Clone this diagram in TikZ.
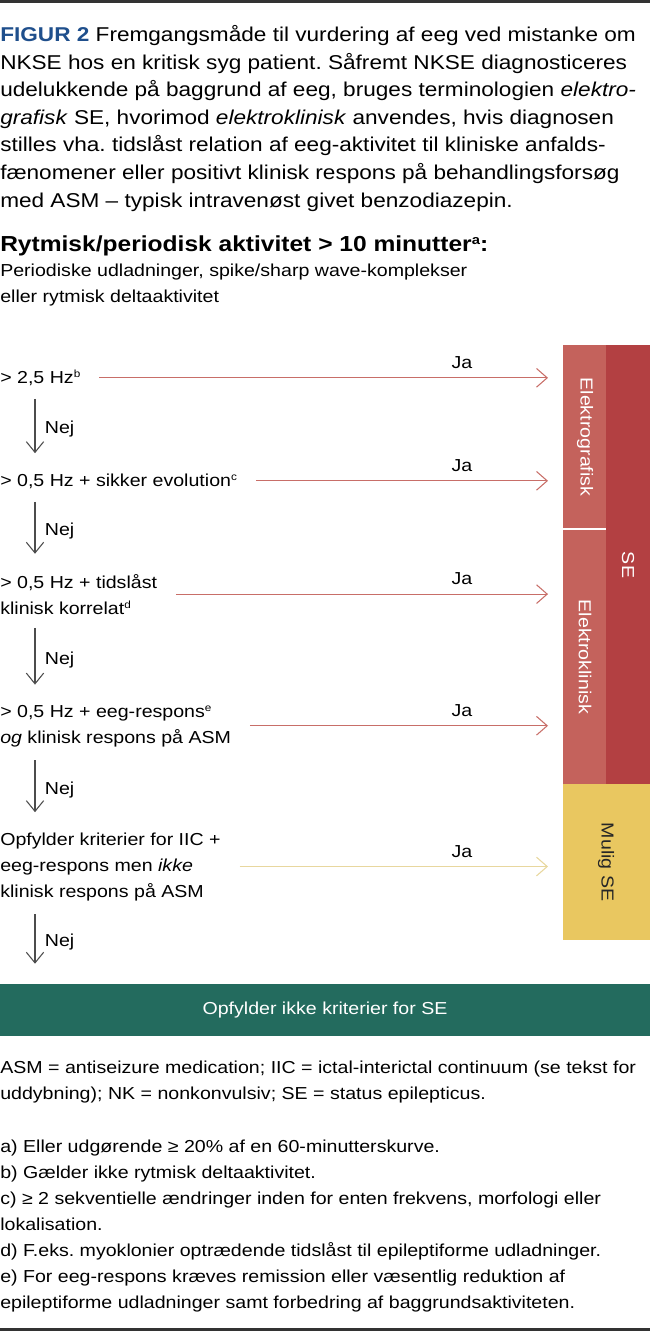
\documentclass[tikz,border=0pt]{standalone}
\usepackage{fontspec}
\setmainfont{Liberation Sans}[FakeStretch=1.13]
\usetikzlibrary{arrows.meta}
\definecolor{figblue}{HTML}{1F4F8C}
\definecolor{lightred}{HTML}{C4625C}
\definecolor{darkred}{HTML}{B34042}
\definecolor{mustard}{HTML}{E9C760}
\definecolor{seagreen}{HTML}{236B5E}
\definecolor{jared}{HTML}{C86E68}
\definecolor{jayellow}{HTML}{E8D79E}
\definecolor{rulegray}{HTML}{333333}
\newcommand{\fnmark}[1]{\raisebox{0.55ex}{\scalebox{0.6}{#1}}}
\frenchspacing

\begin{document}
\begin{tikzpicture}[x=0.75pt,y=-0.75pt,
  txt/.style={inner sep=0,anchor=base west,align=left,font=\fontsize{13}{19.5}\selectfont},
  ja/.style={-{Straight Barb[length=8pt,width=14pt]},line width=0.8pt},
  jalab/.style={inner sep=0,anchor=base,font=\fontsize{13}{15}\selectfont},
  nej/.style={-{Straight Barb[length=8pt,width=13pt]},line width=0.8pt,black!70,shorten <=10pt,shorten >=15pt},
  barlab/.style={rotate=-90,inner sep=0,font=\fontsize{13}{15}\selectfont}]
  \useasboundingbox (0,0) rectangle (650,1331);
  \fill[rulegray] (0,0) rectangle (650,3);
  \fill[rulegray] (0,1328) rectangle (650,1331);

  % caption (base = last line)
  \node[txt,font=\fontsize{15}{20.7}\selectfont] (caption) at (0,207)
    {\textbf{\color{figblue}FIGUR 2} Fremgangsmåde til vurdering af eeg ved mistanke om\\
     NKSE hos en kritisk syg patient. Såfremt NKSE diagnosticeres\\
     udelukkende på baggrund af eeg, bruges terminologien \textit{elektro-}\\
     \textit{grafisk} SE, hvorimod \textit{elektroklinisk} anvendes, hvis diagnosen\\
     stilles vha. tidslåst relation af eeg-aktivitet til kliniske anfalds-\\
     fænomener eller positivt klinisk respons på behandlingsforsøg\\
     med ASM – typisk intravenøst givet benzodiazepin.};
  \node[txt,font=\fontsize{16.3}{20}\selectfont\bfseries] (head) at (0,251)
    {Rytmisk/periodisk aktivitet > 10 minutter\fnmark{a}:};
  \node[txt] (sub) at (0,302)
    {Periodiske udladninger, spike/sharp wave-komplekser\\eller rytmisk deltaaktivitet};

  % bars
  \fill[lightred] (563,345) rectangle (606,528);
  \fill[lightred] (563,530) rectangle (606,784);
  \fill[darkred] (606,345) rectangle (650,784);
  \fill[mustard] (563,784) rectangle (650,940);
  \node[barlab,text=white] (egraf) at (585,437) {Elektrografisk};
  \node[barlab,text=white] (eklin) at (585,657) {Elektroklinisk};
  \node[barlab,text=white] (se) at (628,565) {SE};
  \node[barlab,text=black!85] (mulig) at (606,862) {Mulig SE};

  % conditions
  \node[txt] (c1) at (0,383) {> 2,5 Hz\fnmark{b}};
  \node[txt] (c2) at (0,486) {> 0,5 Hz + sikker evolution\fnmark{c}};
  \node[txt] (c3) at (0,614) {> 0,5 Hz + tidslåst\\klinisk korrelat\fnmark{d}};
  \node[txt] (c4) at (0,743) {> 0,5 Hz + eeg-respons\fnmark{e}\\\textit{og} klinisk respons på ASM};
  \node[txt] (c5) at (0,897) {Opfylder kriterier for IIC +\\eeg-respons men \textit{ikke}\\klinisk respons på ASM};
  \node[fill=seagreen,text=white,minimum width=487.5pt,minimum height=39pt,inner sep=0,
    font=\fontsize{13}{15}\selectfont] (nomatch) at (325,1010) {Opfylder ikke kriterier for SE};

  \coordinate (tip) at (548,0);
  \coordinate (jax) at (462,0);
  \coordinate (nejx) at (35,0);
  \foreach \c/\col in {c1/jared,c2/jared,c3/jared,c4/jared,c5/jayellow}{
    \draw[ja,\col] ([xshift=14pt]\c.east) -- (\c.east -| tip);
    \node[jalab] at ([yshift=7pt]\c.east -| jax) {Ja};
  }
  \foreach \a/\b in {c1/c2,c2/c3,c3/c4,c4/c5,c5/nomatch}
    \draw[nej] (\a.south -| nejx) -- node[right=7pt,inner sep=0,text=black,
      font=\fontsize{13}{15}\selectfont] {Nej} (\b.north -| nejx);

  % footnotes
  \node[txt] (abbr) at (0,1099)
    {ASM = antiseizure medication; IIC = ictal-interictal continuum (se tekst for\\
     uddybning); NK = nonkonvulsiv; SE = status epilepticus.};
  \node[txt] (notes) at (0,1308)
    {a) Eller udgørende ≥ 20\% af en 60-minutterskurve.\\
     b) Gælder ikke rytmisk deltaaktivitet.\\
     c) ≥ 2 sekventielle ændringer inden for enten frekvens, morfologi eller\\
     lokalisation.\\
     d) F.eks. myoklonier optrædende tidslåst til epileptiforme udladninger.\\
     e) For eeg-respons kræves remission eller væsentlig reduktion af\\
     epileptiforme udladninger samt forbedring af baggrundsaktiviteten.};
\end{tikzpicture}
\end{document}
